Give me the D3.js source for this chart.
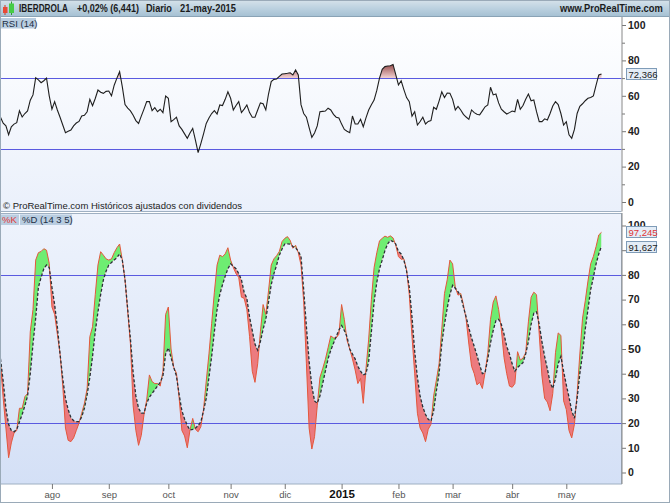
<!DOCTYPE html>
<html>
<head>
<meta charset="utf-8">
<script src="https://cdnjs.cloudflare.com/ajax/libs/d3/7.8.5/d3.min.js"></script>
<style>
body { margin: 0; background: #fff; }
svg text { font-family: "Liberation Sans", Arial, sans-serif; }
</style>
</head>
<body>
<div id="chart"></div>
<script>

// RSI (14), una sesion por valor, desde 7-jul-2014 hasta 21-may-2015
var rsi = [
    47.9, 44.5, 43, 38, 42.5, 44, 44.8, 51.5, 48, 50,
    51.5, 57.5, 60.5, 70.2, 69, 67.4, 68.5, 70, 60, 52.4,
    56.7, 52, 47.9, 43.5, 39.2, 40, 40.7, 43, 44.6, 45.5,
    48.6, 49, 51, 58, 54.4, 58.5, 63.3, 62, 61.4, 62.5,
    62.7, 60, 66, 70, 73.6, 65, 55, 53, 51.5, 49,
    46, 44.4, 48.5, 52.5, 56.7, 56.7, 51.6, 53.3, 51, 52.4,
    50.5, 59.9, 58.6, 45.4, 46.5, 47.9, 43, 41, 38.5, 36,
    39, 41.6, 35, 27.9, 33, 38.5, 44.4, 47.5, 50, 51.6,
    49.7, 54.8, 54.5, 58, 62.3, 58.6, 52, 54.5, 56.7, 50.5,
    52.5, 54.8, 50.5, 47.9, 47.9, 52, 56, 55.5, 52, 61,
    68, 69.3, 69.5, 71, 72.3, 72.5, 72.7, 73, 71.8, 74.6,
    71.8, 55, 50, 47.9, 42, 36.5, 39, 43, 51, 51.2,
    51.4, 53, 52, 49.5, 47.9, 47.5, 44, 41, 40, 39.2,
    48.6, 44.1, 44.1, 46.7, 42.5, 47.5, 52, 55, 57.6, 63,
    70, 75, 76.5, 76.8, 77, 77.7, 72, 66.1, 68.5, 63.5,
    59, 56.7, 48.5, 51, 43.5, 45.5, 47.9, 44.1, 45.5, 46,
    53.5, 52.4, 57, 62.3, 59, 61.6, 61.4, 58, 52, 54,
    52, 49.5, 48, 46.7, 52, 50.5, 49.6, 49.2, 51.5, 53.8,
    54.8, 64.8, 60.5, 61, 56, 52.4, 51, 49.7, 50.5, 51.4,
    51, 58, 52.4, 54.5, 58, 61, 57.2, 57.6, 51, 45.4,
    45.4, 47, 46.3, 50, 54.2, 56.7, 55, 50, 43.5, 45.4,
    38, 36, 41, 50, 54, 55.5, 57.2, 58.6, 59, 59.9,
    66, 71.8, 72.366
];

// Estocastico %K (14 3 5)
var pctK = [
    44, 30, 18, 6, 12, 16, 17, 26, 26, 30.7,
    32, 57, 66, 86, 89, 89.5, 90.6, 90, 84.7, 67,
    64, 56, 48, 35, 18, 13, 12.5, 14, 17, 20,
    24, 28, 34, 55, 59, 72, 84, 89.4, 88, 86.5,
    86, 86.5, 89, 91, 92.5, 86, 77.9, 65, 52, 27,
    17, 11, 15, 23.3, 29.4, 39.5, 36.8, 36, 36, 35,
    41, 64, 67, 50, 42.5, 40.2, 30, 17, 14.8, 10,
    17.2, 21.9, 17.5, 16.5, 18.5, 25.5, 37, 48, 60.4, 73,
    84, 88, 87.4, 88.5, 91, 86, 83, 80.5, 79, 71,
    70.5, 66, 55, 41, 36.5, 44, 57, 68, 64, 73.5,
    84, 86.5, 87.8, 89.5, 93.5, 94.8, 95.5, 94, 90.8, 92,
    89, 84, 69, 44, 18, 9.5, 14.5, 27, 38.5, 42,
    45.8, 50.5, 55.3, 54.5, 54.5, 56, 68, 62, 53.5, 50,
    46, 41.5, 36, 38.1, 28, 42, 54, 70, 83, 89,
    93.8, 94.8, 95.7, 95.2, 95.8, 95, 92, 87.4, 86.3, 86.5,
    82, 72, 55, 40, 24, 18, 16, 12.5, 17.5, 19.5,
    31, 37.4, 44, 58, 72.5, 78, 86, 84.5, 75, 71.8,
    72.5, 68, 62, 52, 43, 40, 35.5, 36.5, 34, 40.5,
    48.5, 62, 69, 71.5, 66, 58, 46.5, 40, 35, 34.5,
    36, 48.9, 45.5, 46.3, 48.5, 61, 71, 73, 72, 56,
    39, 30, 28.5, 25, 32, 48.5, 56.5, 55.5, 29, 25.5,
    17, 14, 19.5, 32, 48, 62.5, 69.5, 77.5, 84.5, 87.5,
    91.5, 96.2, 97.245
];

// %D
var pctD = [
    46, 37, 26, 19.5, 17, 16.5, 17.5, 20.5, 23.5, 27,
    31, 40, 52, 62.5, 75, 79, 82.5, 84, 83, 75,
    68, 59, 48, 38, 30, 25.5, 22.3, 21, 20.6, 20.6,
    22.5, 26, 31.5, 38.5, 47, 57, 65, 72, 78, 81.5,
    84, 85, 86, 87, 88.5, 86, 78, 66, 54, 40.5,
    31, 26, 24, 24, 28, 30.5, 32, 33.5, 35, 36.5,
    39, 48, 50.5, 46.5, 42.5, 39, 31.5, 25, 21.7, 19,
    17.2, 17.5, 17.9, 19, 20.5, 25, 30, 38.5, 47, 57,
    66, 72, 76, 79.5, 82.5, 84.5, 83.5, 82.5, 80.5, 78,
    73, 70.5, 63, 57.5, 52, 49.5, 53, 58, 62, 69,
    76, 80.5, 84, 88, 90.5, 92.5, 92.6, 92.5, 91.5, 91,
    89.5, 87.5, 74, 59, 45, 35, 29, 28, 31, 36,
    41, 46, 49.5, 52.3, 55, 57.7, 59.5, 57.5, 55, 50,
    48, 46, 43, 41, 39.5, 40, 45, 57, 69, 77,
    82.5, 86, 89.8, 92.5, 94, 93.5, 92.5, 89.5, 88.5, 86,
    81.5, 75, 63, 49, 38.5, 31, 26.5, 23.5, 21.5, 20.8,
    25, 33, 40, 52, 60, 66.5, 72, 75.8, 74.6, 73.2,
    71.5, 67, 63, 58.5, 54.5, 51, 47.5, 43.5, 40, 40.5,
    46, 52.5, 57.5, 61.5, 62, 60, 56, 51, 48, 44,
    41, 42.5, 43.5, 44.5, 48, 53, 60, 64.5, 65, 60,
    53, 47, 42, 36.5, 34, 38, 44, 47, 41, 35.5,
    30.5, 25, 22, 30, 40, 48, 58, 66, 74, 79,
    84.5, 88.5, 91.627
];

// primera sesion de cada mes (indice) y su etiqueta
var monthIdx = [19, 40, 62, 85, 105, 126, 147, 167, 189, 209];
var monthLbl = ["ago", "sep", "oct", "nov", "dic", "2015", "feb", "mar", "abr", "may"];

var rsiTicks = [0, 20, 40, 60, 80, 100];
var rsiMinor = [10, 30, 50, 70, 90];
var rsiLevels = [30, 70];
var stoTicks = [0, 10, 20, 30, 40, 50, 60, 70, 80, 90, 100];
var stoLevels = [20, 80];

var W = 670, H = 503;
var plotR = 621.5;
var rsiTop = 17, rsiBot = 211.5, stoTop = 213, stoBot = 484;

var x = d3.scaleLinear().domain([0, rsi.length - 1]).range([0.5, 601.5]);
var yR = d3.scaleLinear().domain([0, 100]).range([202, 25]);
var yS = d3.scaleLinear().domain([0, 100]).range([472.5, 225.5]);

var coma = function(v) { return d3.format(".3f")(v).replace(".", ","); };
var lastR = rsi[rsi.length - 1], lastK = pctK[pctK.length - 1], lastD = pctD[pctD.length - 1];

var svg = d3.select("#chart").append("svg")
    .attr("width", W)
    .attr("height", H);

var defs = svg.append("defs");

function vgrad(id, stops, y1, y2) {
    var g = defs.append("linearGradient").attr("id", id)
        .attr("x1", 0).attr("x2", 0);
    if (y1 != undefined) {
        g.attr("gradientUnits", "userSpaceOnUse").attr("y1", y1).attr("y2", y2);
    } else {
        g.attr("y1", 0).attr("y2", 1);
    }
    stops.forEach(function(s) {
        g.append("stop").attr("offset", s[0]).attr("stop-color", s[1]);
    });
}

vgrad("gHead", [[0, "#d6e2ea"], [0.5, "#bdd2e0"], [1, "#a6c1d3"]]);
vgrad("gRsi", [[0, "#ffffff"], [1, "#eaf0fb"]]);
vgrad("gSto", [[0, "#eef3fc"], [1, "#d4e0f6"]]);
vgrad("gHot", [[0, "#7c2626"], [1, "#f3d3d3"]], yR(80), yR(70));

// clips
defs.append("clipPath").attr("id", "cRsiUp")
    .append("rect").attr("x", 0).attr("y", rsiTop).attr("width", plotR).attr("height", yR(70) - rsiTop);

defs.append("clipPath").attr("id", "cAbove")
    .append("path")
    .attr("d", d3.area().x(function(d, i) { return x(i); }).y0(stoTop).y1(function(d) { return yS(d); })(pctD));

defs.append("clipPath").attr("id", "cBelow")
    .append("path")
    .attr("d", d3.area().x(function(d, i) { return x(i); }).y0(function(d) { return yS(d); }).y1(stoBot)(pctD));

// fondo de paneles
svg.append("rect").attr("x", 0).attr("y", rsiTop).attr("width", plotR).attr("height", rsiBot - rsiTop)
    .attr("fill", "url(#gRsi)");
svg.append("rect").attr("x", 0.5).attr("y", stoTop + 0.5).attr("width", plotR - 0.5).attr("height", stoBot - stoTop - 0.5)
    .attr("fill", "url(#gSto)")
    .attr("stroke", "#9fb0c2");
svg.append("line").attr("x1", 0.5).attr("x2", 0.5).attr("y1", rsiTop).attr("y2", rsiBot)
    .attr("stroke", "#9fb0c2");
svg.append("line").attr("x1", 0).attr("x2", plotR).attr("y1", rsiBot).attr("y2", rsiBot)
    .attr("stroke", "#9fb0c2");

/* ---- RSI ---- */

var rsiLine = d3.line().x(function(d, i) { return x(i); }).y(function(d) { return yR(d); });

svg.append("path")
    .attr("clip-path", "url(#cRsiUp)")
    .attr("d", d3.area().x(function(d, i) { return x(i); }).y0(yR(70)).y1(function(d) { return yR(d); })(rsi))
    .attr("fill", "url(#gHot)");

svg.selectAll("line.lvR")
    .data(rsiLevels)
    .enter()
    .append("line")
    .attr("class", "lvR")
    .attr("x1", 0).attr("x2", plotR)
    .attr("y1", function(d) { return Math.round(yR(d)) + 0.5; })
    .attr("y2", function(d) { return Math.round(yR(d)) + 0.5; })
    .attr("stroke", "#5a5ae0");

svg.append("path")
    .attr("d", rsiLine(rsi))
    .attr("fill", "none")
    .attr("stroke", "#1e1e1e")
    .attr("stroke-width", 1.1);

/* ---- Estocastico ---- */

var band = d3.area()
    .x(function(d, i) { return x(i); })
    .y0(function(d, i) { return yS(pctD[i]); })
    .y1(function(d) { return yS(d); });

svg.append("path")
    .attr("clip-path", "url(#cAbove)")
    .attr("d", band(pctK))
    .attr("fill", "#4cec4c")
    .attr("fill-opacity", 0.78);

svg.append("path")
    .attr("clip-path", "url(#cBelow)")
    .attr("d", band(pctK))
    .attr("fill", "#f05656")
    .attr("fill-opacity", 0.75);

svg.selectAll("line.lvS")
    .data(stoLevels)
    .enter()
    .append("line")
    .attr("class", "lvS")
    .attr("x1", 0).attr("x2", plotR)
    .attr("y1", function(d) { return Math.round(yS(d)) + 0.5; })
    .attr("y2", function(d) { return Math.round(yS(d)) + 0.5; })
    .attr("stroke", "#5a5ae0");

var stoLine = d3.line().x(function(d, i) { return x(i); }).y(function(d) { return yS(d); });

svg.append("path")
    .attr("d", stoLine(pctK))
    .attr("fill", "none")
    .attr("stroke", "#e4573c")
    .attr("stroke-width", 1);

svg.append("path")
    .attr("d", stoLine(pctD))
    .attr("fill", "none")
    .attr("stroke", "#2b3038")
    .attr("stroke-width", 1.3)
    .attr("stroke-dasharray", "3,2");

/* ---- ejes ---- */

svg.append("rect").attr("x", plotR + 0.5).attr("y", 17).attr("width", W - plotR).attr("height", H - 17)
    .attr("fill", "#fff");

var axR = svg.append("g")
    .attr("transform", "translate(" + 622 + ",0)")
    .call(d3.axisRight(yR).tickValues(rsiTicks).tickSize(4).tickPadding(2));
var axRm = svg.append("g")
    .attr("transform", "translate(" + 622 + ",0)")
    .call(d3.axisRight(yR).tickValues(rsiMinor).tickSize(3).tickFormat(""));
// las etiquetas que quedan tapadas por las cajas de ultimo valor no se escriben
var axS = svg.append("g")
    .attr("transform", "translate(" + 622 + ",0)")
    .call(d3.axisRight(yS).tickValues(stoTicks).tickSize(4).tickPadding(2)
        .tickFormat(function(d) {
            return (Math.abs(yS(d) - yS(lastD)) < 5 || Math.abs(yS(d) - yS(lastK)) < 7) ? "" : d;
        }));

[axR, axRm, axS].forEach(function(a) {
    a.select(".domain").remove();
    a.selectAll("line").attr("stroke", "#777");
    a.selectAll("text")
        .attr("fill", "#222")
        .style("font-size", "10.5px")
        .style("font-weight", "bold");
});
axS.selectAll("text").filter(function(d) { return d == 50; }).style("font-size", "11.5px");

svg.append("line").attr("x1", 622).attr("x2", 622).attr("y1", 17).attr("y2", rsiBot)
    .attr("stroke", "#888");
svg.append("line").attr("x1", 622).attr("x2", 622).attr("y1", stoTop).attr("y2", stoBot)
    .attr("stroke", "#888");

// el "100" del estocastico asoma por encima de la caja del %K
var peek = svg.append("g");
peek.append("clipPath").attr("id", "cPeek")
    .append("rect").attr("x", 622).attr("y", 215).attr("width", 48).attr("height", yS(lastK) - 5 - 215);
peek.append("text")
    .attr("clip-path", "url(#cPeek)")
    .attr("x", 628).attr("y", yS(100)).attr("dy", "0.32em")
    .text("100")
    .attr("fill", "#222")
    .style("font-size", "10.5px")
    .style("font-weight", "bold");

// ultimo valor en cajita
function tag(yv, txt, col) {
    var g = svg.append("g").attr("transform", "translate(626," + Math.round(yv) + ")");
    g.append("rect").attr("x", 0.5).attr("y", -5.5).attr("width", 30).attr("height", 11)
        .attr("fill", "#e4edf7").attr("stroke", "#7f9cb8");
    g.append("text").attr("x", 2.5).attr("y", 3.5).text(txt)
        .attr("fill", col).style("font-size", "9.5px");
}
tag(yR(lastR), coma(lastR), "#222");
tag(yS(lastK), coma(lastK), "#e03434");
tag(yS(lastD) + 1, coma(lastD), "#222");

var axX = svg.append("g")
    .attr("transform", "translate(0," + stoBot + ")")
    .call(d3.axisBottom(x).tickValues(monthIdx).tickSize(5).tickPadding(2)
        .tickFormat(function(d, i) { return monthLbl[i]; }));
axX.select(".domain").remove();
axX.selectAll("line").attr("stroke", "#777");
axX.selectAll("text")
    .attr("fill", "#555")
    .style("font-size", "9.5px");
axX.selectAll("text").filter(function(d, i) { return monthLbl[i] == "2015"; })
    .attr("y", 6)
    .attr("fill", "#111")
    .style("font-size", "11.5px")
    .style("font-weight", "bold");

/* ---- cabecera y rotulos ---- */

svg.append("rect").attr("width", W).attr("height", 16).attr("fill", "url(#gHead)");
svg.append("line").attr("x1", 0).attr("x2", W).attr("y1", 16.5).attr("y2", 16.5).attr("stroke", "#8aa3b5");

// logo velas
svg.append("line").attr("x1", 5).attr("x2", 5).attr("y1", 5).attr("y2", 15).attr("stroke", "#c43a2a");
svg.append("rect").attr("x", 3).attr("y", 7).attr("width", 4.5).attr("height", 6).attr("fill", "#e84a36");
svg.append("line").attr("x1", 11.5).attr("x2", 11.5).attr("y1", 1.5).attr("y2", 15).attr("stroke", "#2e9a2e");
svg.append("rect").attr("x", 9).attr("y", 3.5).attr("width", 5).attr("height", 9.5).attr("fill", "#46cc46");

// textos de cabecera: [texto, x, ancho]; la letra original es estrecha
var hdr = [["IBERDROLA", 19, 49], ["+0,02% (6,441)", 77, 62], ["Diario", 146, 26],
           ["21-may-2015", 180, 56], ["www.ProRealTime.com", 560, 103]];
svg.selectAll("text.hdr")
    .data(hdr)
    .enter()
    .append("text")
    .attr("class", "hdr")
    .text(function(d) { return d[0]; })
    .attr("fill", "#1b1b1b")
    .style("font-size", "10.5px")
    .style("font-weight", "bold")
    .attr("transform", function(d) {
        var w = this.getComputedTextLength();
        return "translate(" + d[1] + ",12) scale(" + (d[2] / w) + ",1)";
    });

// etiquetas de indicador
svg.append("rect").attr("x", 0).attr("y", 18).attr("width", 36).attr("height", 10.5).attr("fill", "#b9cde0");
svg.append("text").attr("x", 2).attr("y", 26.5).text("RSI (14)")
    .attr("fill", "#1d2f45").style("font-size", "9.5px");

svg.append("text").attr("x", 3).attr("y", 208.5)
    .text("\u00a9 ProRealTime.com  Hist\u00f3ricos ajustados con dividendos")
    .attr("fill", "#222").style("font-size", "9.5px");

svg.append("rect").attr("x", 0).attr("y", 214.5).attr("width", 19).attr("height", 10.5).attr("fill", "#b9cde0");
svg.append("rect").attr("x", 20).attr("y", 214.5).attr("width", 52).attr("height", 10.5).attr("fill", "#b9cde0");
svg.append("text").attr("x", 2).attr("y", 223).text("%K")
    .attr("fill", "#e23a3a").style("font-size", "9.5px");
svg.append("text").attr("x", 22).attr("y", 223).text("%D (14 3 5)")
    .attr("fill", "#1d2f45").style("font-size", "9.5px");

// marco exterior
svg.append("rect").attr("x", 0.5).attr("y", 0.5).attr("width", W - 1).attr("height", H - 1)
    .attr("fill", "none").attr("stroke", "#9aaab8");

</script>
</body>
</html>
